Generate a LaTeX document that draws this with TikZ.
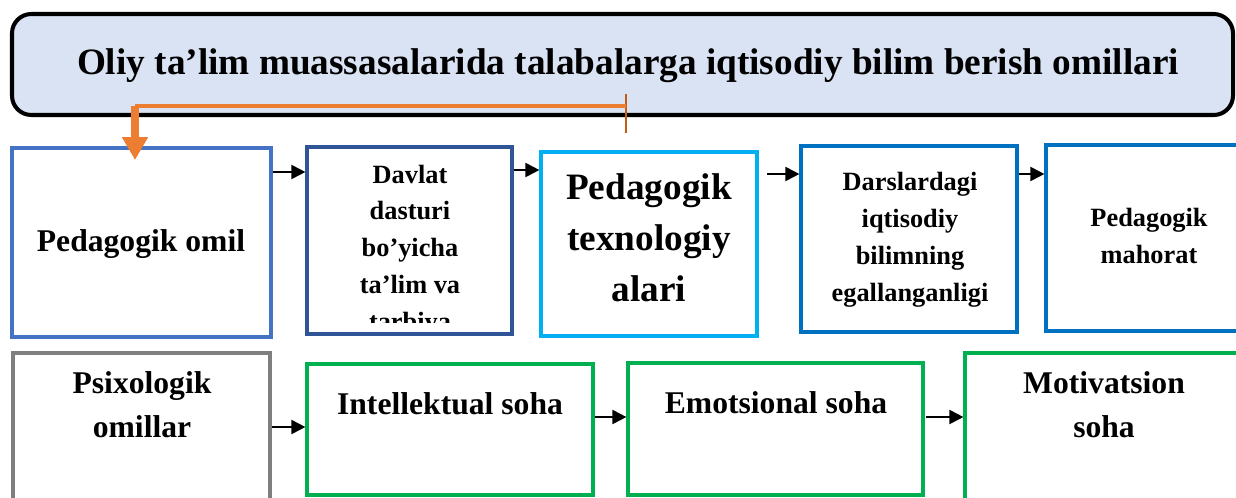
\documentclass[tikz,border=0pt]{standalone}
\usepackage{fontspec}
\setmainfont{Liberation Serif}
\usetikzlibrary{arrows.meta,fit}
\definecolor{titlefill}{HTML}{DAE3F3}
\definecolor{pedblue}{HTML}{4472C4}
\definecolor{navyblue}{HTML}{2F5597}
\definecolor{skyblue}{HTML}{00B0F0}
\definecolor{midblue}{HTML}{0070C0}
\definecolor{greybox}{HTML}{7F7F7F}
\definecolor{greenbox}{HTML}{00B050}
\definecolor{orangeline}{HTML}{ED7D31}
\definecolor{orangetick}{HTML}{C55A11}

\begin{document}
\begin{tikzpicture}[x=0.02cm, y=-0.02cm,
    box/.style={draw=#1, line width=1.8pt, inner sep=0pt},
    arr/.style={line width=1.1pt, -{Triangle[length=8pt, width=8pt]}},
    smalltxt/.style={anchor=base, align=center, font=\bfseries\fontsize{15pt}{20.9pt}\selectfont},
    midtxt/.style={anchor=base, align=center, font=\bfseries\fontsize{18pt}{24.5pt}\selectfont},
    bigtxt/.style={anchor=base, align=center, font=\bfseries\fontsize{21.2pt}{29pt}\selectfont}]
      \clip (0,0) rectangle (1236,497);
      \fill[white] (0,0) rectangle (1236,497);
      % title
      \node[draw=black, line width=2.3pt, fill=titlefill, rounded corners=11pt, inner sep=0pt, fit={(12,14) (1233,115)}] (title) {};
      \node[bigtxt] (titletxt) at (628,74) {Oliy ta’lim muassasalarida talabalarga iqtisodiy bilim berish omillari};
      % top row
      \node[box=pedblue, fit={(12,148) (271,337)}] (ped) {};
      \node[box=navyblue, fit={(307,147) (512,334)}] (davlat) {};
      \node[box=skyblue, fit={(541,152) (757,336)}] (pedtex) {};
      \node[box=midblue, fit={(801,146) (1017,332)}] (dars) {};
      \node[box=midblue, fit={(1046,145) (1260,331)}] (mahorat) {};
      \node[midtxt] (pedtxt) at (141,251) {Pedagogik omil};
      \begin{scope}
        \clip (307,147) rectangle (512,322);
        \node[smalltxt] (davlattxt) at (410,330) {Davlat\\dasturi\\bo’yicha\\ta’lim va\\tarbiya};
      \end{scope}
      \node[bigtxt] (pedtextxt) at (649,301) {Pedagogik\\texnologiy\\alari};
      \node[smalltxt] (darstxt) at (910,301) {Darslardagi\\iqtisodiy\\bilimning\\egallanganligi};
      \node[smalltxt] (mahorattxt) at (1149,263) {Pedagogik\\mahorat};
      % bottom row
      \node[box=greybox, fit={(13,353) (270,520)}] (psix) {};
      \node[box=greenbox, fit={(307,364) (593,495)}] (intel) {};
      \node[box=greenbox, fit={(628,363) (923,495)}] (emo) {};
      \node[box=greenbox, fit={(965,353) (1260,520)}] (motiv) {};
      \node[midtxt] (psixtxt) at (142,437) {Psixologik\\omillar};
      \node[midtxt] (inteltxt) at (450,414) {Intellektual soha};
      \node[midtxt] (emotxt) at (776,413) {Emotsional soha};
      \node[midtxt] (motivtxt) at (1104,437) {Motivatsion\\soha};
      % arrows
      \draw[arr] (ped.east |- 0,172) -- (davlat.west |- 0,172);
      \draw[arr] (davlat.east |- 0,170) -- (pedtex.west |- 0,170);
      \draw[arr, shorten <=5pt] (pedtex.east |- 0,174) -- (dars.west |- 0,174);
      \draw[arr] (dars.east |- 0,174) -- (mahorat.west |- 0,174);
      \draw[arr] (psix.east |- 0,427) -- (intel.west |- 0,427);
      \draw[arr] (intel.east |- 0,417) -- (emo.west |- 0,417);
      \draw[arr, shorten <=1pt] (emo.east |- 0,417) -- (motiv.west |- 0,417);
      % orange connector
      \coordinate (tickup) at (626,94);
      \coordinate (tickdown) at (626,133);
      \coordinate (bend) at (135,106);
      \coordinate (pedin) at (135,160);
      \draw[orangetick, line width=1.4pt] (tickup) -- (tickdown);
      \draw[orangeline, line width=2.3pt] (bend -| tickup) -- (bend);
      \draw[orangeline, line width=5pt, -{Triangle[length=13pt, width=14pt]}] (bend) -- (pedin);
\end{tikzpicture}
\end{document}
